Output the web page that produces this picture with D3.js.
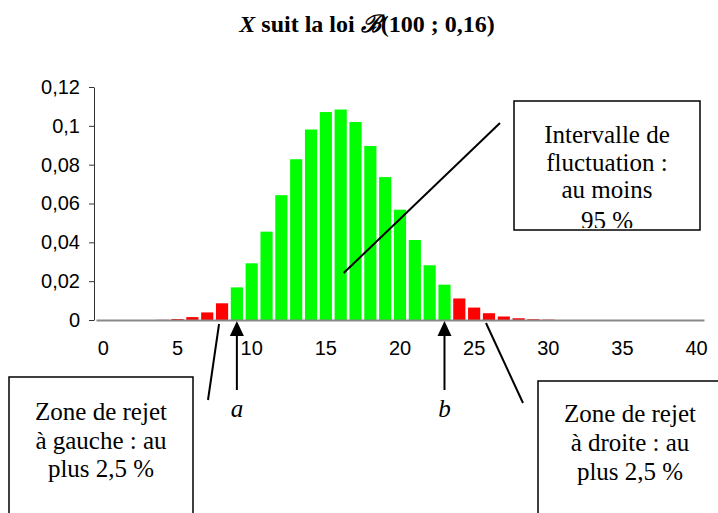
<!DOCTYPE html>
<html>
<head>
<meta charset="utf-8">
<script src="https://cdn.jsdelivr.net/npm/d3@7"></script>
<style>
  body { margin: 0; background: #fff; }
  .axis text { font-family: 'Liberation Sans', Arial, sans-serif; font-size: 20px; fill: #000; }
  .note { font-family: 'Liberation Serif', 'Times New Roman', serif; font-size: 25px; fill: #000; }
</style>
</head>
<body>
<svg id="chart" width="718" height="513"></svg>
<script>
// k values of X
const ks = d3.range(0, 41);

// P(X = k)
const probs = [
  0, 0, 0, 0, 0.0001, 0.0005, 0.0015, 0.0039, 0.0086, 0.0168,
  0.0292, 0.0455, 0.0643, 0.0828, 0.0981, 0.1071, 0.1084, 0.1020, 0.0896, 0.0736,
  0.0568, 0.0412, 0.0282, 0.0182, 0.0111, 0.0064, 0.0035, 0.0018, 0.0009, 0.0004,
  0.0002, 0, 0, 0, 0, 0, 0, 0, 0, 0, 0
];

// bounds of the fluctuation interval
const bounds = [9, 23];

const xTicks = [0, 5, 10, 15, 20, 25, 30, 35, 40];
const yTicks = [0, 0.02, 0.04, 0.06, 0.08, 0.1, 0.12];
const yTickLabels = ['0', '0,02', '0,04', '0,06', '0,08', '0,1', '0,12'];

const svg = d3.select('#chart');

const x = d3.scaleBand()
  .domain(ks)
  .range([96, 704])
  .paddingInner(0.18)
  .paddingOuter(0.09);

const y = d3.scaleLinear().domain([0, 0.12]).range([320, 87]);

// Title
const title = svg.append('text')
  .attr('x', 367)
  .attr('y', 32)
  .attr('text-anchor', 'middle')
  .style('font-family', "'Liberation Serif', 'Times New Roman', serif")
  .style('font-size', '24px')
  .style('font-weight', 'bold');
title.append('tspan').style('font-style', 'italic').text('X');
title.append('tspan').text(' suit la loi ');
title.append('tspan').style('font-style', 'italic').text('ℬ');
title.append('tspan').text('(100 ; 0,16)');

// Bars
svg.selectAll('.bar')
  .data(ks)
  .enter()
  .append('rect')
  .attr('class', 'bar')
  .attr('x', d => x(d))
  .attr('width', x.bandwidth())
  .attr('y', d => y(probs[d]))
  .attr('height', d => y(0) - y(probs[d]))
  .attr('fill', d => (d >= bounds[0] && d <= bounds[1]) ? '#00ff00' : '#ff0000');

// Y axis
const yAxis = svg.append('g')
  .attr('class', 'axis')
  .attr('transform', 'translate(94,0)')
  .call(d3.axisLeft(y)
    .tickValues(yTicks)
    .tickSize(5)
    .tickPadding(9)
    .tickSizeOuter(0)
    .tickFormat((d, i) => yTickLabels[i]));
yAxis.selectAll('path, line').attr('stroke', '#333');

// X axis
const xAxis = svg.append('g')
  .attr('class', 'axis')
  .attr('transform', 'translate(0,' + y(0) + ')')
  .call(d3.axisBottom(x)
    .tickValues(xTicks)
    .tickSize(0)
    .tickPadding(21)
    .tickSizeOuter(0));
xAxis.select('.domain').attr('stroke', '#888').attr('stroke-width', 2);

// Arrows for a and b
const arrowTop = y(0) + 1;
bounds.forEach(function (k, i) {
  const cx = x(k) + x.bandwidth() / 2;
  svg.append('line')
    .attr('x1', cx).attr('x2', cx)
    .attr('y1', arrowTop + 12).attr('y2', arrowTop + 69)
    .attr('stroke', '#000').attr('stroke-width', 2);
  svg.append('path')
    .attr('d', d3.line()([[cx, arrowTop], [cx - 7, arrowTop + 15], [cx + 7, arrowTop + 15]]) + 'Z')
    .attr('fill', '#000');
  svg.append('text')
    .attr('class', 'note')
    .attr('x', cx)
    .attr('y', 417)
    .attr('text-anchor', 'middle')
    .style('font-style', 'italic')
    .text(i === 0 ? 'a' : 'b');
});

// Pointer lines
function pointer(x1, y1, x2, y2) {
  svg.append('line')
    .attr('x1', x1).attr('y1', y1)
    .attr('x2', x2).attr('y2', y2)
    .attr('stroke', '#000').attr('stroke-width', 2);
}
pointer(x(16) + x.bandwidth() / 2 + 3, y(0.0242), 500, 123);
pointer(x(8) + x.bandwidth() / 2 - 3, y(0) + 4, 208, 400);
pointer(x(26) + x.bandwidth() / 2 - 3, y(0) + 3, 523, 403);

// Text boxes
function textBox(id, bx, by, bw, bh, cx, baselines, lines) {
  svg.append('clipPath').attr('id', id)
    .append('rect')
    .attr('x', bx + 1).attr('y', by + 1)
    .attr('width', bw - 2).attr('height', bh - 3);
  svg.append('rect')
    .attr('x', bx).attr('y', by)
    .attr('width', bw).attr('height', bh)
    .attr('fill', '#fff')
    .attr('stroke', '#000')
    .attr('stroke-width', 1.5);
  const g = svg.append('g').attr('clip-path', 'url(#' + id + ')');
  lines.forEach(function (t, i) {
    g.append('text')
      .attr('class', 'note')
      .attr('x', cx)
      .attr('y', baselines[i])
      .attr('text-anchor', 'middle')
      .text(t);
  });
}

textBox('clip-top', 514, 101, 186, 129, 607, [143, 171, 198, 229],
  ['Intervalle de', 'fluctuation :', 'au moins', '95 %']);
textBox('clip-left', 9, 377, 184, 160, 101, [420, 448.5, 477],
  ['Zone de rejet', 'à gauche : au', 'plus 2,5 %']);
textBox('clip-right', 538, 381, 200, 160, 630, [422, 451, 480],
  ['Zone de rejet', 'à droite : au', 'plus 2,5 %']);
</script>
</body>
</html>
